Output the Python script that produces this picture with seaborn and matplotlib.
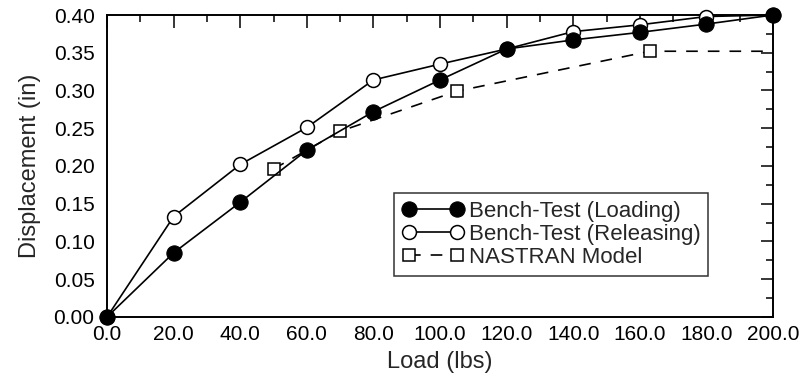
import matplotlib
matplotlib.use("Agg")
import matplotlib.pyplot as plt
import seaborn as sns
import pandas as pd
from matplotlib.ticker import MultipleLocator, FormatStrFormatter

sns.set_style("white")
plt.rcParams['font.family'] = ['Liberation Sans', 'DejaVu Sans']

load_loading = [0, 20, 40, 60, 80, 100, 120, 140, 160, 180, 200]
disp_loading = [0.0, 0.085, 0.152, 0.221, 0.272, 0.314, 0.355, 0.367, 0.377, 0.388, 0.400]

load_releasing = [0, 20, 40, 60, 80, 100, 120, 140, 160, 180, 200]
disp_releasing = [0.0, 0.133, 0.202, 0.251, 0.314, 0.335, 0.355, 0.378, 0.387, 0.398, 0.400]

load_nastran = [50, 70, 105, 163, 200]
disp_nastran = [0.196, 0.246, 0.299, 0.352, 0.352]
nastran_marker_idx = [0, 1, 2, 3]

labels = ["Bench-Test (Loading)", "Bench-Test (Releasing)", "NASTRAN Model"]

df_load = pd.DataFrame({"Load": load_loading, "Disp": disp_loading})
df_rel = pd.DataFrame({"Load": load_releasing, "Disp": disp_releasing})
df_nas = pd.DataFrame({"Load": load_nastran, "Disp": disp_nastran})

fig = plt.figure(figsize=(8.03, 3.77), dpi=100)
ax = fig.add_axes([0.1333, 0.1592, 0.8294, 0.801])

lw = 1.2
sns.lineplot(data=df_nas, x="Load", y="Disp", ax=ax, color="black", lw=lw,
             linestyle=(0, (7, 6)), marker="s", markersize=9, markerfacecolor="white",
             markeredgecolor="black", markeredgewidth=1.1, markevery=nastran_marker_idx,
             label=labels[2], zorder=2)
sns.lineplot(data=df_rel, x="Load", y="Disp", ax=ax, color="black", lw=lw,
             marker="o", markersize=10, markerfacecolor="white",
             markeredgecolor="black", markeredgewidth=1.1, label=labels[1], zorder=3)
sns.lineplot(data=df_load, x="Load", y="Disp", ax=ax, color="black", lw=lw,
             marker="o", markersize=11, markerfacecolor="black",
             markeredgecolor="black", label=labels[0], zorder=4)

for l in ax.lines:
    l.set_clip_on(False)

ax.set_xlim(0, 200)
ax.set_ylim(0, 0.40)
ax.xaxis.set_major_locator(MultipleLocator(20))
ax.xaxis.set_minor_locator(MultipleLocator(10))
ax.yaxis.set_major_locator(MultipleLocator(0.05))
ax.yaxis.set_minor_locator(MultipleLocator(0.025))
ax.xaxis.set_major_formatter(FormatStrFormatter("%.1f"))
ax.yaxis.set_major_formatter(FormatStrFormatter("%.2f"))
ax.tick_params(axis="both", which="both", direction="in", top=True, right=True,
               labelsize=15, width=1.1, colors="black")
ax.tick_params(which="major", length=9)
ax.tick_params(which="minor", length=5)
ax.tick_params(axis="y", which="major", pad=9)
ax.tick_params(axis="x", which="major", pad=6)
for s in ax.spines.values():
    s.set_color("black")
    s.set_linewidth(1.4)

ax.set_xlabel("Load (lbs)", fontsize=17, labelpad=5)
ax.set_ylabel("Displacement (in)", fontsize=17, labelpad=9)

handles, labs = ax.get_legend_handles_labels()
order = [labs.index(x) for x in labels]
leg = ax.legend([handles[i] for i in order], [labs[i] for i in order],
                loc="upper left", bbox_to_anchor=(0.431, 0.411), numpoints=2,
                handlelength=2.8, handletextpad=0.2, fontsize=16, frameon=True,
                fancybox=False, edgecolor="black", borderpad=0.35, labelspacing=0.1,
                borderaxespad=0)
leg.get_frame().set_linewidth(1.1)

fig.savefig("out.png", dpi=100)
